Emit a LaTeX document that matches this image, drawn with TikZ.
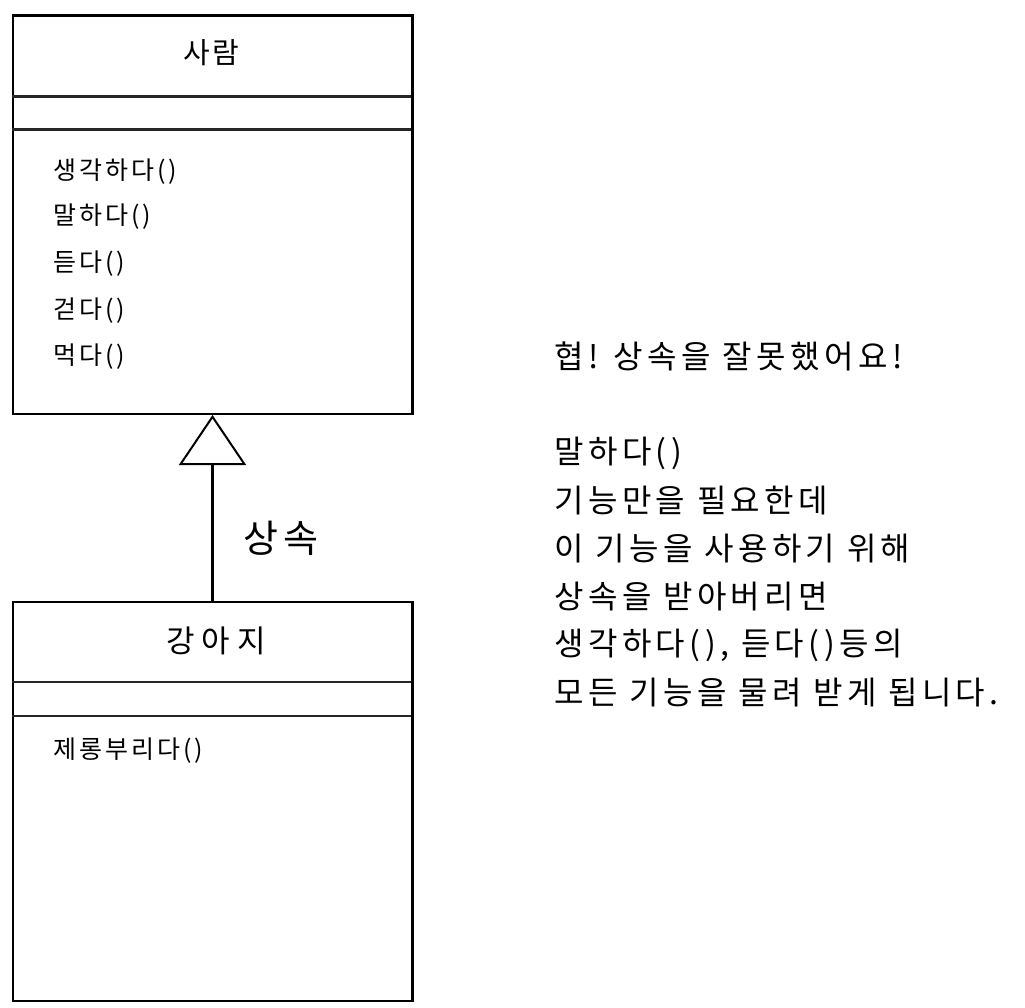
\documentclass[tikz,border=0pt]{standalone}
\usepackage{fontspec}
\setmainfont{Noto Sans CJK KR}
\usetikzlibrary{arrows.meta}
\tikzset{
  classbox/.style={draw=black, line width=2.5pt, rectangle, anchor=north west, inner sep=0pt, minimum width=399.5pt},
  divider/.style={draw=black!85, line width=2.2pt},
  title/.style={inner sep=0pt, font=\fontsize{29}{34}\selectfont\addfontfeatures{LetterSpace=8}},
  method/.style={inner sep=0pt, anchor=west, font=\fontsize{25}{29}\selectfont\addfontfeatures{LetterSpace=12}},
  note/.style={inner sep=0pt, anchor=west, font=\fontsize{32}{38}\selectfont\addfontfeatures{LetterSpace=14}},
  inherit/.style={draw=black, line width=2.5pt, -{Triangle[open, length=50pt, width=67pt, line width=2pt]}},
}
\begin{document}
\begin{tikzpicture}[x=1pt, y=-1pt]
\useasboundingbox[fill=white] (0,0) rectangle (1025,1008);
% super class
\node[classbox, minimum height=398pt] (person) at (11.5,14.5) {};
\draw[divider] (11.5,96.5) -- (411,96.5);
\draw[divider] (11.5,129.5) -- (411,129.5);
\node[title] (personname) at (211,53) {사람};
\node[method] (m1) at (53,172) {생각하다()};
\node[method] (m2) at (53,217) {말하다()};
\node[method] (m3) at (53,264) {듣다()};
\node[method] (m4) at (53,311) {걷다()};
\node[method] (m5) at (53,357) {먹다()};
% sub class
\node[classbox, minimum height=399pt] (dog) at (11.5,600.5) {};
\draw[divider] (11.5,682) -- (411,682);
\draw[divider] (11.5,716) -- (411,716);
\node[title, font=\fontsize{31}{36}\selectfont\addfontfeatures{LetterSpace=22}] (dogname) at (216,641) {강아지};
\node[method] (d1) at (53,751) {제롱부리다()};
% inheritance
\draw[inherit] (dog.north) -- (person.south);
\node[inner sep=0pt, font=\fontsize{38}{44}\selectfont\addfontfeatures{LetterSpace=14}] (lbl) at (281,538) {상속};
% note
\node[note] (t0) at (554,356) {협! 상속을 잘못했어요!};
\node[note] (t1) at (554,453) {말하다()};
\node[note] (t2) at (554,501) {기능만을 필요한데};
\node[note] (t3) at (554,549) {이 기능을 사용하기 위해};
\node[note] (t4) at (554,597) {상속을 받아버리면};
\node[note] (t5) at (554,645) {생각하다(), 듣다()등의};
\node[note] (t6) at (554,693) {모든 기능을 물려 받게 됩니다.};
\end{tikzpicture}
\end{document}
